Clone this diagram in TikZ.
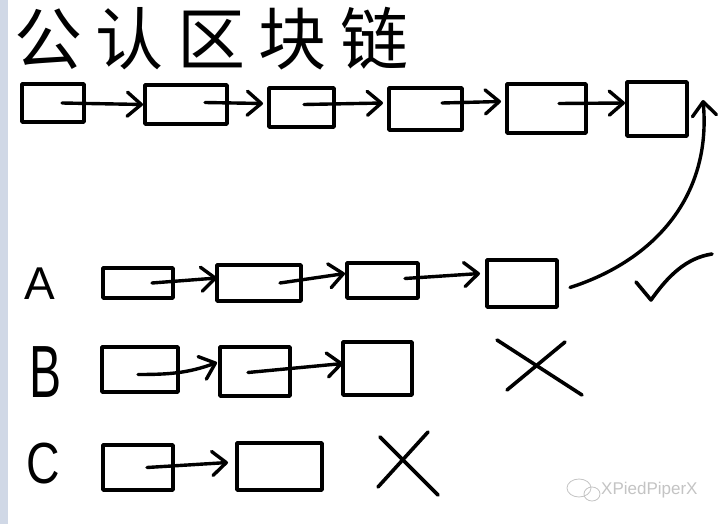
\documentclass[tikz,border=0pt]{standalone}
\usepackage{fontspec}
\usepackage{graphicx}
\setmainfont{Liberation Sans}
\newfontfamily\cjkfont[LetterSpace=20]{Noto Sans CJK SC}
\usetikzlibrary{arrows.meta}
\definecolor{stripcol}{HTML}{D0D8E6}
\definecolor{wmgray}{HTML}{C4C4C4}
\begin{document}
\begin{tikzpicture}[x=1pt,y=-1pt,
  blk/.style={draw=black,line width=3.6pt,line join=round,inner sep=0pt,outer sep=0pt},
  arr/.style={line width=3.4pt,line cap=round,-{Straight Barb[length=14pt,width=24pt,round]}},
  penmark/.style={line width=3.6pt,line cap=round,line join=round},
  letter/.style={inner sep=0pt,text=black}]
\useasboundingbox (0,0) rectangle (726,524);
\fill[white] (0,0) rectangle (726,524);
\fill[stripcol] (0,0) rectangle (8,524);
% title
\node[anchor=west,inner sep=0pt,font=\cjkfont\fontsize{68}{68}\selectfont] (title) at (14,39) {公认区块链};
% top chain
\node[blk,minimum width=62pt,minimum height=38pt] (r1) at (53,103) {};
\node[blk,minimum width=82pt,minimum height=39pt] (r2) at (186,104.5) {};
\node[blk,minimum width=65pt,minimum height=39pt] (r3) at (301.5,107.5) {};
\node[blk,minimum width=73pt,minimum height=42pt] (r4) at (425.5,109) {};
\node[blk,minimum width=79pt,minimum height=49pt] (r5) at (546.5,108.5) {};
\node[blk,minimum width=60pt,minimum height=54pt] (r6) at (657,109) {};
\draw[arr] ([xshift=-22pt]r1.east) -- ([xshift=-2pt]r2.west);
\draw[arr] ([xshift=-22pt,yshift=2pt]r2.east) -- ([xshift=-6pt,yshift=4pt]r3.west);
\draw[arr] ([xshift=-30pt,yshift=3pt]r3.east) -- ([xshift=-6pt,yshift=6pt]r4.west);
\draw[arr] ([xshift=-20pt,yshift=6pt]r4.east) -- ([xshift=-6pt,yshift=7pt]r5.west);
\draw[arr] ([xshift=-27pt,yshift=5pt]r5.east) -- ([xshift=-2pt,yshift=6pt]r6.west);
% row A
\node[letter,font=\fontsize{46}{46}\selectfont] (la) at (40,284) {A};
\node[blk,minimum width=70pt,minimum height=30pt] (a1) at (138,283) {};
\node[blk,minimum width=84pt,minimum height=36pt] (a2) at (259,283) {};
\node[blk,minimum width=71pt,minimum height=35pt] (a3) at (382.5,280.5) {};
\node[blk,minimum width=70pt,minimum height=47pt] (a4) at (522,283.5) {};
\draw[arr] ([xshift=-21pt]a1.east) -- ([yshift=5pt]a2.west);
\draw[arr] ([xshift=-21pt]a2.east) -- ([xshift=-2pt,yshift=7pt]a3.west);
\draw[arr] ([xshift=-13pt,yshift=2pt]a3.east) -- ([xshift=-7pt,yshift=10pt]a4.west);
\draw[arr] ([xshift=13pt,yshift=-4pt]a4.east) .. controls (650,262) and (712,200) .. ([xshift=16pt,yshift=-18pt]r6.north east);
\draw[penmark] (636,282) -- (651,300) .. controls (668,276) and (686,258) .. (712,254);
% row B
\node[letter,font=\fontsize{74}{74}\selectfont] (lb) at (46,372) {\scalebox{0.65}[1]{B}};
\node[blk,minimum width=76pt,minimum height=45pt] (b1) at (140,369.5) {};
\node[blk,minimum width=70pt,minimum height=49pt] (b2) at (255,371.5) {};
\node[blk,minimum width=69pt,minimum height=53pt] (b3) at (377.5,368.5) {};
\draw[arr] ([xshift=-40pt,yshift=-5pt]b1.east) to[out=0,in=200] ([xshift=-3pt,yshift=9pt]b2.west);
\draw[arr] ([xshift=-42pt,yshift=-1pt]b2.east) -- ([yshift=5pt]b3.west);
\draw[penmark] (497,340) -- (582,395);
\draw[penmark] (565,342) -- (507,390);
% row C
\node[letter,font=\fontsize{58}{58}\selectfont] (lc) at (43,464) {\scalebox{0.8}[1]{C}};
\node[blk,minimum width=70pt,minimum height=45pt] (c1) at (138,467.5) {};
\node[blk,minimum width=85pt,minimum height=47pt] (c2) at (279.5,466.5) {};
\draw[arr] ([xshift=-26pt]c1.east) -- ([xshift=-9pt,yshift=4pt]c2.west);
\draw[penmark] (380,437) -- (438,495);
\draw[penmark] (428,432) -- (378,487);
% watermark
\draw[wmgray,line width=0.8pt] (579,488) ellipse (12pt and 9pt);
\draw[wmgray,line width=0.8pt] (592,494) ellipse (8pt and 7pt);
\node[anchor=west,inner sep=0pt,text=wmgray,font=\fontsize{17}{17}\selectfont] (wm) at (601,490) {XPiedPiperX};
\end{tikzpicture}
\end{document}
